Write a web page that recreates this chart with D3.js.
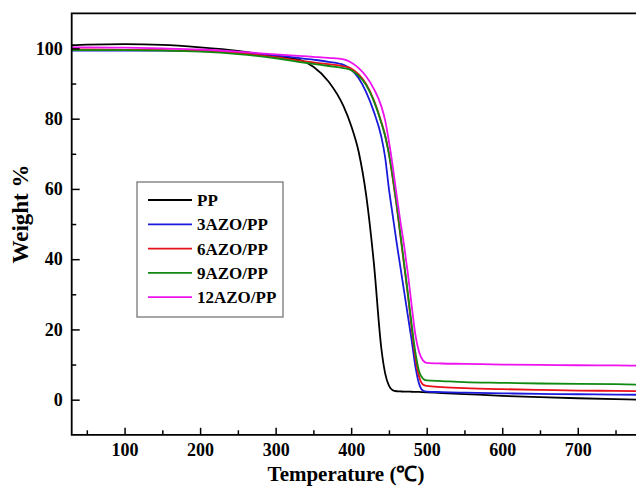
<!DOCTYPE html>
<html><head><meta charset="utf-8">
<script src="https://cdn.jsdelivr.net/npm/d3@7"></script>
<style>
html,body{margin:0;padding:0;background:#fff;}
svg{display:block;}
text{font-family:"Liberation Serif","Times New Roman",serif;font-weight:bold;fill:#000;}
</style></head>
<body>
<svg id="chart" width="636" height="492"></svg>
<script>
const temps = [30, 50, 100, 150, 200, 250, 300, 330, 350, 370, 390, 400, 410, 420, 430, 440, 445, 450, 455, 460, 465, 470, 475, 480, 485, 490, 495, 500, 520, 550, 600, 650, 700, 750, 780];
const pp      = [100.9, 101.1, 101.2, 101.0, 100.3, 99.3, 97.7, 96.9, 94.8, 90.6, 83.5, 78.0, 70.5, 58.0, 39.0, 14.5, 7.5, 4.0, 2.7, 2.4, 2.35, 2.3, 2.3, 2.25, 2.2, 2.2, 2.15, 2.1, 1.9, 1.6, 1.1, 0.7, 0.4, 0.15, 0.0];
const azo3    = [99.4, 99.4, 99.4, 99.4, 99.3, 98.9, 98.0, 97.3, 96.8, 96.2, 95.3, 94.0, 91.5, 87.5, 82.0, 74.8, 69.0, 60.0, 52.5, 45.0, 38.0, 31.0, 24.0, 17.0, 9.5, 4.5, 2.6, 2.3, 2.15, 2.0, 1.8, 1.65, 1.55, 1.45, 1.4];
const azo6    = [99.7, 99.7, 99.6, 99.5, 99.3, 98.7, 97.5, 96.6, 96.0, 95.5, 94.9, 94.3, 92.6, 89.8, 85.3, 79.0, 75.3, 70.0, 63.0, 55.5, 47.0, 38.5, 30.0, 20.5, 12.0, 6.5, 4.3, 3.9, 3.6, 3.3, 3.0, 2.8, 2.6, 2.5, 2.4];
const azo9    = [99.5, 99.5, 99.5, 99.4, 99.1, 98.4, 97.2, 96.2, 95.6, 95.0, 94.4, 93.8, 92.2, 89.5, 85.0, 78.8, 75.0, 70.0, 63.5, 56.0, 47.5, 39.0, 30.5, 21.5, 13.5, 8.0, 6.0, 5.5, 5.3, 5.0, 4.8, 4.6, 4.5, 4.4, 4.3];
const azo12   = [100.3, 100.3, 100.2, 100.0, 99.7, 99.1, 98.3, 97.9, 97.6, 97.3, 96.9, 96.0, 94.4, 92.0, 88.5, 83.5, 79.5, 73.5, 66.5, 58.5, 51.0, 44.0, 36.0, 27.0, 18.5, 13.5, 11.2, 10.5, 10.3, 10.2, 10.0, 9.9, 9.8, 9.75, 9.7];
const seriesNames = ["PP", "3AZO/PP", "6AZO/PP", "9AZO/PP", "12AZO/PP"];
const seriesColors = ["#000000", "#1a1adc", "#e8101a", "#118a11", "#ee12ee"];
const xTickLabels = [100, 200, 300, 400, 500, 600, 700];
const yTickLabels = [0, 20, 40, 60, 80, 100];

const seriesValues = [pp, azo3, azo6, azo9, azo12];
const svg = d3.select("#chart");
const L = 71.7, T = 13.3, B = 434.8;
const x = d3.scaleLinear().domain([30, 800]).range([L, L + 770 * 0.7553]);
const y = d3.scaleLinear().domain([-10, 110]).range([B, T]);

svg.append("defs").append("clipPath").attr("id", "clip")
  .append("rect").attr("x", L).attr("y", T).attr("width", x(800) - L).attr("height", B - T);

// lines
const line = d3.line().x(d => x(d[0])).y(d => y(d[1])).curve(d3.curveMonotoneX);
const gLines = svg.append("g").attr("clip-path", "url(#clip)");
seriesValues.forEach((vals, i) => {
  gLines.append("path")
    .datum(temps.map((t, j) => [t, vals[j]]))
    .attr("d", line)
    .attr("fill", "none")
    .attr("stroke", seriesColors[i])
    .attr("stroke-width", 1.8)
    .attr("stroke-linejoin", "round");
});

const fontFam = '"Liberation Serif","Times New Roman",serif';

// axes
const xAxis = d3.axisBottom(x).tickValues(xTickLabels).tickSize(-7).tickFormat(d3.format("d"));
const gx = svg.append("g").attr("transform", `translate(0,${B})`).call(xAxis);
gx.select(".domain").remove();
gx.selectAll(".tick line").attr("stroke", "#000").attr("stroke-width", 1.5);
gx.selectAll(".tick text").attr("font-size", 18).attr("y", 21).attr("dy", 0)
  .style("font-family", fontFam).style("font-weight", "bold");
const xMinor = d3.axisBottom(x).tickValues(d3.range(50, 800, 100)).tickSize(-4.5).tickFormat("");
const gxm = svg.append("g").attr("transform", `translate(0,${B})`).call(xMinor);
gxm.select(".domain").remove();
gxm.selectAll(".tick line").attr("stroke", "#000").attr("stroke-width", 1.5);

const yAxis = d3.axisLeft(y).tickValues(yTickLabels).tickSize(-8).tickPadding(9).tickFormat(d3.format("d"));
const gy = svg.append("g").attr("transform", `translate(${L},0)`).call(yAxis);
gy.select(".domain").remove();
gy.selectAll(".tick line").attr("stroke", "#000").attr("stroke-width", 1.5);
gy.selectAll(".tick text").attr("font-size", 18)
  .style("font-family", fontFam).style("font-weight", "bold");
const yMinor = d3.axisLeft(y).tickValues(d3.range(10, 110, 20)).tickSize(-4.5).tickFormat("");
const gym = svg.append("g").attr("transform", `translate(${L},0)`).call(yMinor);
gym.select(".domain").remove();
gym.selectAll(".tick line").attr("stroke", "#000").attr("stroke-width", 1.5);

// frame
svg.append("path")
  .attr("d", `M${x(800)},${T}H${L}V${B}H${x(800)}`)
  .attr("fill", "none").attr("stroke", "#000").attr("stroke-width", 1.8);

// axis titles
svg.append("text").attr("x", 346).attr("y", 481).attr("text-anchor", "middle")
  .attr("font-size", 21).text("Temperature (℃)");
svg.append("text").attr("transform", "translate(28,214) rotate(-90)").attr("text-anchor", "middle")
  .attr("font-size", 23).text("Weight %");

// legend
const lg = svg.append("g");
lg.append("rect").attr("x", 137).attr("y", 182).attr("width", 146).attr("height", 135)
  .attr("fill", "#fff").attr("stroke", "#777").attr("stroke-width", 1.3);
seriesNames.forEach((name, i) => {
  const yy = 200 + i * 24.3;
  lg.append("line").attr("x1", 148).attr("x2", 192).attr("y1", yy).attr("y2", yy)
    .attr("stroke", seriesColors[i]).attr("stroke-width", 1.8);
  lg.append("text").attr("x", 197).attr("y", yy).attr("dy", "0.35em")
    .attr("font-size", 17).text(name);
});
</script>
</body></html>
